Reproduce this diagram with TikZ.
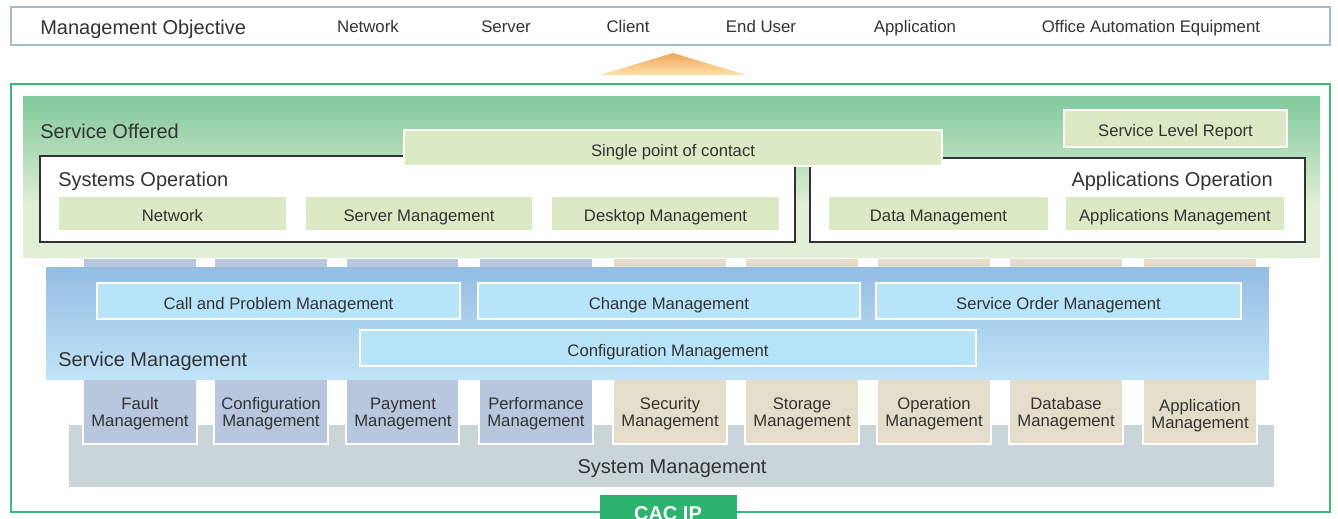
\documentclass[tikz,border=0pt]{standalone}
\usepackage{fontspec}
\setmainfont{Liberation Sans}
\definecolor{ink}{HTML}{333333}
\definecolor{barline}{HTML}{A3BCC8}
\definecolor{framegreen}{HTML}{3DB97A}
\definecolor{bandtop}{HTML}{7FC99B}
\definecolor{bandlight}{HTML}{E1EFD6}
\definecolor{itemgreen}{HTML}{DBEAC4}
\definecolor{blutop}{HTML}{93BDE3}
\definecolor{blubot}{HTML}{C0E4F7}
\definecolor{itemblue}{HTML}{B7E4F9}
\definecolor{colblue}{HTML}{B8C6DE}
\definecolor{colbeige}{HTML}{E4DDC9}
\definecolor{sysgray}{HTML}{CAD5DA}
\definecolor{cacgreen}{HTML}{2CB46F}
\definecolor{arrowtop}{HTML}{F0A55C}
\definecolor{arrowbot}{HTML}{FDE2A6}
\begin{document}
\begin{tikzpicture}[x=0.75pt,y=-0.75pt,
  sz/.style args={#1/#2}{minimum width=#1*0.75pt,minimum height=#2*0.75pt},
  box/.style={rectangle,anchor=north west,inner sep=0pt,outer sep=0pt},
  big/.style={font=\fontsize{15}{17}\selectfont,text=ink,inner sep=0pt},
  small/.style={font=\fontsize{12.5}{13}\selectfont,text=ink},
  item/.style={box,small,fill=itemgreen,draw=white,line width=0.8pt,text height=12pt,text depth=0pt},
  proc/.style={box,small,fill=itemblue,draw=white,line width=0.8pt,text height=12pt,text depth=0pt},
  colA/.style={box,fill=colblue,draw=white,line width=1pt},
  colB/.style={box,fill=colbeige,draw=white,line width=1pt},
  coltext/.style={small,align=center,inner sep=0pt},
  frame/.style={box,fill=white,draw=ink,line width=0.8pt},
  objective/.style={small,inner sep=0pt,anchor=base,font=\fontsize{12.6}{14}\selectfont},
]
\useasboundingbox (0,0) rectangle (1338,518);
\clip (0,0) rectangle (1338,518);

% management objectives bar
\node[box,draw=barline,line width=0.9pt,fill=white,sz=1319/38] (objbar) at (11,7) {};
\node[big,anchor=base west] (objtitle) at (40,34) {Management Objective};
\node[objective] (obj1) at (368,32) {Network};
\node[objective] (obj2) at (506,32) {Server};
\node[objective] (obj3) at (628,32) {Client};
\node[objective] (obj4) at (761,32) {End User};
\node[objective] (obj5) at (915,32) {Application};
\node[objective] (obj6) at (1151,32) {Office Automation Equipment};

% upward arrow towards the objectives
\shade[top color=arrowtop,bottom color=arrowbot] (600,75) -- (673,53) -- (746,75) -- cycle;

% outer frame
\draw[framegreen,line width=1.1pt] (11,84) rectangle (1330,512);

% system management base
\node[box,fill=sysgray,sz=1205/62] (sysband) at (69,425) {};
\node[big,anchor=base] (syslabel) at (672,473) {System Management};

% management columns
\node[colA,sz=114/186] (c1) at (83,258) {};
\node[colA,sz=114/186] (c2) at (214,258) {};
\node[colA,sz=113/186] (c3) at (346,258) {};
\node[colA,sz=114/186] (c4) at (479,258) {};
\node[colB,sz=114/186] (c5) at (613,258) {};
\node[colB,sz=114/186] (c6) at (745,258) {};
\node[colB,sz=114/186] (c7) at (877,258) {};
\node[colB,sz=114/186] (c8) at (1009,258) {};
\node[colB,sz=114/186] (c9) at (1143,258) {};
\node[coltext] (t1) at (140,414) {Fault\\Management};
\node[coltext] (t2) at (271,414) {Configuration\\Management};
\node[coltext] (t3) at (403,414) {Payment\\Management};
\node[coltext] (t4) at (536,414) {Performance\\Management};
\node[coltext] (t5) at (670,414) {Security\\Management};
\node[coltext] (t6) at (802,414) {Storage\\Management};
\node[coltext] (t7) at (934,414) {Operation\\Management};
\node[coltext] (t8) at (1066,414) {Database\\Management};
\node[coltext] (t9) at (1200,416) {Application\\Management};

% service management band
\shade[top color=blutop,bottom color=blubot] (46,267) rectangle (1269,379);
\node[big,anchor=base west] (smlabel) at (58,366) {Service Management};
\node[proc,sz=363/36] (callprob) at (97,283) {Call and Problem Management};
\node[proc,sz=382/36] (change) at (478,283) {Change Management};
\node[proc,sz=365/36] (order) at (876,283) {Service Order Management};
\node[proc,sz=616/36] (config) at (360,330) {Configuration Management};

% service offered band
\fill[bandlight] (23,96) rectangle (1320,258);
\shade[top color=bandtop,bottom color=bandlight] (23,96) rectangle (1320,205);
\node[big,anchor=base west] (solabel) at (40,138) {Service Offered};
\node[frame,sz=755/86] (sysop) at (40,156) {};
\node[frame,sz=495/84] (appop) at (810,158) {};
\node[big,anchor=base west] (sysoplabel) at (58,186) {Systems Operation};
\node[big,anchor=base east] (appoplabel) at (1273,186) {Applications Operation};
\node[item,sz=538/36] (spoc) at (404,130) {Single point of contact};
\node[item,sz=223/37] (slr) at (1064,110) {Service Level Report};
\node[item,sz=229/35] (net) at (58,196) {Network};
\node[item,sz=228/35] (srv) at (305,196) {Server Management};
\node[item,sz=229/35] (desk) at (551,196) {Desktop Management};
\node[item,sz=221/35] (data) at (828,196) {Data Management};
\node[item,sz=220/35] (apps) at (1065,196) {Applications Management};

% provider tag
\node[box,fill=cacgreen,sz=137/40] (cactag) at (600,495) {};
\node[text=white,font=\fontsize{15}{17}\selectfont\bfseries,inner sep=0pt] (cac) at (668,514) {CAC IP};
\end{tikzpicture}
\end{document}
